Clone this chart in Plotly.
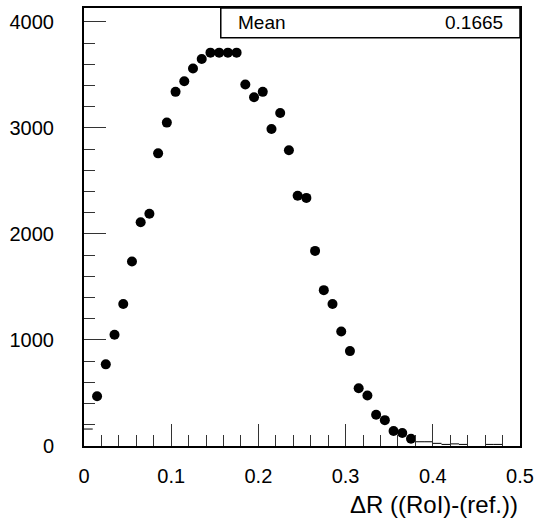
import plotly.graph_objects as go

# Bin centres with drawn markers
x_pts = [0.015, 0.025, 0.035, 0.045, 0.055, 0.065, 0.075, 0.085, 0.095, 0.105,
         0.115, 0.125, 0.135, 0.145, 0.155, 0.165, 0.175, 0.185, 0.195, 0.205,
         0.215, 0.225, 0.235, 0.245, 0.255, 0.265, 0.275, 0.285, 0.295, 0.305,
         0.315, 0.325, 0.335, 0.345, 0.355, 0.365, 0.375]
y_pts = [470, 770, 1050, 1340, 1740, 2110, 2190, 2760, 3050, 3340,
         3440, 3560, 3650, 3710, 3710, 3710, 3710, 3410, 3290, 3340,
         2990, 3140, 2790, 2360, 2340, 1840, 1470, 1340, 1080, 895,
         545, 476, 294, 244, 141, 122, 69]

# Bins drawn only as horizontal bin-width segments
x_seg = [0.005, 0.385, 0.395, 0.405, 0.415, 0.425, 0.435, 0.465, 0.475]
y_seg = [160, 40, 40, 25, 15, 20, 15, 15, 15]
bin_half = 0.005

mean_label = "Mean"
mean_value = "0.1665"
x_title = "ΔR ((RoI)-(ref.))"

FONT = "Liberation Sans, Arial, Helvetica, sans-serif"

fig = go.Figure()
fig.add_trace(go.Scatter(
    x=x_seg, y=y_seg, mode="markers",
    marker=dict(size=1, color="rgba(0,0,0,0)"),
    error_x=dict(type="constant", value=bin_half, width=0, thickness=1, color="black"),
    showlegend=False, hoverinfo="skip"))
fig.add_trace(go.Scatter(
    x=x_pts, y=y_pts, mode="markers",
    marker=dict(size=10, color="black", symbol="circle"),
    showlegend=False))

axis_common = dict(
    showgrid=False, zeroline=False, showline=True, linecolor="black",
    linewidth=2, mirror=True, ticks="inside", tickcolor="#333", tickwidth=1,
    tickfont=dict(family=FONT, size=20, color="black"),
)

fig.update_xaxes(range=[0, 0.5], tickmode="array",
                 tickvals=[0, 0.1, 0.2, 0.3, 0.4, 0.5],
                 ticktext=["0", "0.1", "0.2", "0.3", "0.4", "0.5"],
                 ticklen=22, ticklabelstandoff=11,
                 minor=dict(dtick=0.02, tick0=0, ticklen=11, ticks="inside",
                            tickcolor="#333", tickwidth=1),
                 **axis_common)
fig.update_yaxes(range=[0, 4131], tickmode="array",
                 tickvals=[0, 1000, 2000, 3000, 4000],
                 ticktext=["0", "1000", "2000", "3000", "4000"],
                 ticklen=22, ticklabelstandoff=24,
                 minor=dict(dtick=200, tick0=0, ticklen=11, ticks="inside",
                            tickcolor="#333", tickwidth=1),
                 **axis_common)

# Stats box
fig.add_shape(type="rect", xref="paper", yref="paper",
              x0=0.3137, x1=1.0, y0=0.932, y1=1.0,
              line=dict(color="black", width=1.5), fillcolor="white", layer="above")
fig.add_annotation(xref="paper", yref="paper", x=0.3485, y=0.966,
                   xanchor="left", yanchor="middle", showarrow=False,
                   text=mean_label, font=dict(family=FONT, size=19, color="black"))
fig.add_annotation(xref="paper", yref="paper", x=0.966, y=0.966,
                   xanchor="right", yanchor="middle", showarrow=False,
                   text=mean_value, font=dict(family=FONT, size=19, color="black"))

# X title, right aligned below the axis
fig.add_annotation(xref="paper", yref="paper", x=1.0, y=0,
                   xanchor="right", yanchor="middle", yshift=-58, showarrow=False,
                   text=x_title, font=dict(family=FONT, size=24, color="black"))

fig.update_layout(
    width=540, height=518,
    margin=dict(l=84, r=17, t=6, b=72),
    paper_bgcolor="white", plot_bgcolor="white",
    font=dict(family=FONT, color="black"),
)

fig.write_html("out.html")
